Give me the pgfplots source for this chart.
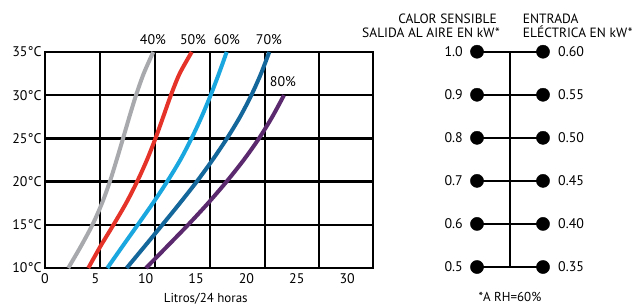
\documentclass[border=0pt]{standalone}
\usepackage{pgfplots}
\pgfplotsset{compat=1.18}
\usepackage{fontspec}
\setmainfont{PT Sans}
\definecolor{cgray}{HTML}{A7A9AC}
\definecolor{cred}{HTML}{E63329}
\definecolor{clblue}{HTML}{1AA7DF}
\definecolor{cdblue}{HTML}{14679A}
\definecolor{cpurple}{HTML}{5B2A6E}
\begin{document}
\begin{tikzpicture}
\useasboundingbox (0bp,0bp) rectangle (635bp,-305bp);
\begin{axis}[
  at={(45bp,-268bp)}, anchor=south west,
  width=328bp, height=216bp, scale only axis,
  xmin=0, xmax=32.57, ymin=10, ymax=35,
  xtick={0,5,10,15,20,25,30},
  xticklabels={0,5,10,15,20,25,30},
  extra x ticks={5.46,10.92,16.39,21.85,27.21},
  extra x tick labels={},
  extra x tick style={grid=major},
  ytick={10,15,20,25,30,35},
  yticklabels={10°C,15°C,20°C,25°C,30°C,35°C},
  ymajorgrids=true,
  major tick length=0pt,
  grid style={black, line width=2.4bp},
  axis line style={black, line width=2.4bp},
  tick label style={font=\fontsize{14}{16}\selectfont},
  x tick label style={yshift=-2bp},
  xlabel={Litros/24 horas},
  xlabel style={font=\fontsize{13}{15}\selectfont, at={(axis description cs:0.49,0)}, anchor=base, yshift=-34bp},
  clip=false,
  every axis plot/.append style={line width=4bp, smooth, tension=0.5},
]
\addplot[cgray] coordinates {(2.31,10) (3.56,12.5) (4.71,15) (5.66,17.5) (6.44,20) (7.11,22.5) (7.75,25) (8.38,27.5) (9.04,30) (9.80,32.5) (10.75,35)};
\addplot[cred] coordinates {(4.30,10) (5.50,12.5) (6.80,15) (8.05,17.5) (9.15,20) (10.12,22.5) (10.97,25) (11.74,27.5) (12.50,30) (13.37,32.5) (14.57,35)};
\addplot[clblue] coordinates {(6.19,10) (7.69,12.5) (9.21,15) (10.71,17.5) (12.13,20) (13.43,22.5) (14.55,25) (15.55,27.5) (16.45,30) (17.27,32.5) (18.04,35)};
\addplot[cdblue] coordinates {(8.11,10) (9.89,12.5) (11.65,15) (13.39,17.5) (15.07,20) (16.63,22.5) (18.07,25) (19.37,27.5) (20.49,30) (21.45,32.5) (22.27,35)};
\addplot[cpurple] coordinates {(10.03,10) (12.13,12.5) (14.21,15) (16.19,17.5) (18.03,20) (19.73,22.5) (21.25,25) (22.57,27.5) (23.73,30)};
\node[font=\fontsize{14}{16}\selectfont] at (axis cs:10.72,36.39) {40\%};
\node[font=\fontsize{14}{16}\selectfont] at (axis cs:14.70,36.39) {50\%};
\node[font=\fontsize{14}{16}\selectfont] at (axis cs:18.07,36.39) {60\%};
\node[font=\fontsize{14}{16}\selectfont] at (axis cs:22.24,36.39) {70\%};
\node[font=\fontsize{14}{16}\selectfont] at (axis cs:23.63,31.53) {80\%};
\end{axis}
\begin{axis}[
  at={(477bp,-267bp)}, anchor=south west,
  width=66bp, height=215.3bp, scale only axis,
  xmin=0, xmax=1, ymin=0.5, ymax=1.0,
  hide axis, clip=false,
]
\addplot[black, line width=2.2bp, unbounded coords=jump] coordinates {
 (0,0.5) (1,0.5) (0,nan) (0,0.6) (1,0.6) (0,nan) (0,0.7) (1,0.7) (0,nan)
 (0,0.8) (1,0.8) (0,nan) (0,0.9) (1,0.9) (0,nan) (0,1.0) (1,1.0)};
\addplot[black, line width=2.2bp] coordinates {(0.5,0.5) (0.5,1.0)};
\addplot[only marks, mark=*, mark size=6.6bp, black,
  nodes near coords, point meta=explicit symbolic,
  nodes near coords style={anchor=east, xshift=-14bp, inner sep=0pt, text=black, font=\fontsize{14}{16}\selectfont}]
  table[meta=lab] {
x y lab
0 0.5 0.5
0 0.6 0.6
0 0.7 0.7
0 0.8 0.8
0 0.9 0.9
0 1.0 1.0
};
\addplot[only marks, mark=*, mark size=6.6bp, black,
  nodes near coords, point meta=explicit symbolic,
  nodes near coords style={anchor=west, xshift=15bp, inner sep=0pt, text=black, font=\fontsize{14}{16}\selectfont}]
  table[meta=lab] {
x y lab
1 0.5 0.35
1 0.6 0.40
1 0.7 0.45
1 0.8 0.50
1 0.9 0.55
1 1.0 0.60
};
\end{axis}
\begin{scope}[every node/.style={inner sep=0pt, font=\fontsize{13.5}{15}\selectfont}]
\node[anchor=base east] at (497bp,-23.3bp) {CALOR SENSIBLE};
\node[anchor=base east] at (500bp,-37.3bp) {SALIDA AL AIRE EN kW*};
\node[anchor=base west] at (522.7bp,-23.3bp) {ENTRADA};
\node[anchor=base west] at (522.7bp,-37.3bp) {ELÉCTRICA EN kW*};
\node[anchor=base, font=\fontsize{13}{15}\selectfont] at (510bp,-301.5bp) {*A RH=60\%};
\end{scope}
\end{tikzpicture}
\end{document}
